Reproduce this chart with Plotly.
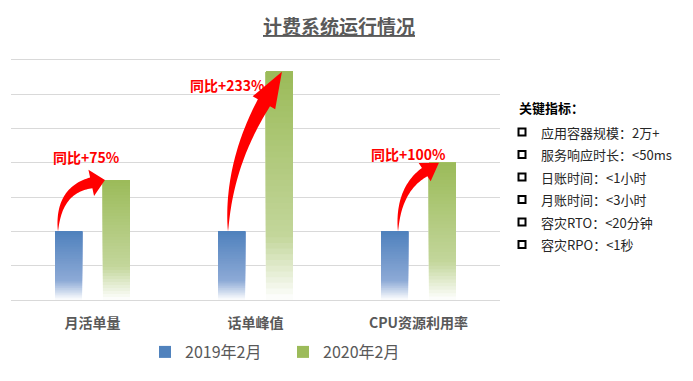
import numpy as np
import plotly.graph_objects as go

# ---------------- data ----------------
categories = ["月活单量", "话单峰值", "CPU资源利用率"]
series_names = ["2019年2月", "2020年2月"]
values_2019 = [2, 2, 2]
values_2020 = [3.5, 6.66, 4]
title_text = "计费系统运行情况"
indicator_title = "关键指标："
indicator_items = [
    "应用容器规模：2万+",
    "服务响应时长：&lt;50ms",
    "日账时间：&lt;1小时",
    "月账时间：&lt;3小时",
    "容灾RTO：&lt;20分钟",
    "容灾RPO：&lt;1秒",
]

# ---------------- layout geometry / style ----------------
# the page body has an 8px margin, so the figure is drawn 8px in from the window corner
PAGE_OFF = 8
WIN_W, WIN_H = 693, 381
W, H = WIN_W - PAGE_OFF, WIN_H - PAGE_OFF
PLOT_L, PLOT_R, PLOT_T, PLOT_B = 11, 500, 60, 300   # window pixel coords of plot area
ML, MT = PLOT_L - PAGE_OFF, PLOT_T - PAGE_OFF
MR, MB = WIN_W - PLOT_R, WIN_H - PLOT_B
PW, PH = PLOT_R - PLOT_L, PLOT_B - PLOT_T
YMAX = 7
SX = PW / 3.0          # px per category unit
SY = PH / YMAX         # px per value unit
BAR_W = 0.166
OFFSETS = [-0.23, 0.064]
FONT = "Noto Sans CJK SC"
GRAY = "#595959"

color_stops = [
    [(0.0, "#4F81BD"), (0.72, "#8DAAD6"), (1.0, "#FFFFFF")],
    [(0.0, "#9BBB59"), (0.72, "#C3D69B"), (1.0, "#FFFFFF")],
]


def hex2rgb(h):
    h = h.lstrip("#")
    return np.array([int(h[i:i + 2], 16) for i in (0, 2, 4)], float)


def grad_color(stops, f):
    # f: 0 = top of bar, 1 = bottom
    for (f0, c0), (f1, c1) in zip(stops[:-1], stops[1:]):
        if f0 <= f <= f1:
            t = (f - f0) / (f1 - f0)
            c = hex2rgb(c0) * (1 - t) + hex2rgb(c1) * t
            return "rgb(%d,%d,%d)" % tuple(np.round(c))
    return stops[-1][1]


fig = go.Figure()
x_idx = np.arange(len(categories))
N = 40
for s, (name, vals) in enumerate([(series_names[0], values_2019), (series_names[1], values_2020)]):
    vals = np.array(vals, float)
    for k in range(N):
        frac_base = k / N
        f_from_top = 1 - (k + 0.5) / N
        fig.add_trace(go.Bar(
            x=x_idx, y=vals * (1 - frac_base), base=vals * frac_base,
            width=BAR_W, offset=OFFSETS[s],
            marker=dict(color=grad_color(color_stops[s], f_from_top), line=dict(width=0)),
            name=name, legendgroup=name,
            showlegend=(k == N - 1),
            hoverinfo="skip",
        ))


# ---------------- curved arrows ----------------
def to_px(x, y):
    return np.array([x * SX, -y * SY])


def to_data(p):
    return p[0] / SX, -p[1] / SY


def arrow_path(tail, tip, angle_deg, head_len, head_w, body_w):
    T = to_px(*tail)
    Hd = to_px(*tip)
    a = np.radians(angle_deg)
    d = np.array([np.cos(a), -np.sin(a)])
    B = Hd - head_len * d
    t = (B[0] - T[0]) / d[0]
    C = B - t * d
    C[0] = T[0]
    ts = np.linspace(0, 1, 40)
    pts = ((1 - ts) ** 2)[:, None] * T + (2 * (1 - ts) * ts)[:, None] * C + (ts ** 2)[:, None] * B
    der = (2 * (1 - ts))[:, None] * (C - T) + (2 * ts)[:, None] * (B - C)
    der /= np.linalg.norm(der, axis=1)[:, None]
    nrm = np.stack([der[:, 1], -der[:, 0]], axis=1)
    w = body_w / 2 * ts ** 0.8
    left = pts + nrm * w[:, None]
    right = pts - nrm * w[:, None]
    n_end = nrm[-1]
    poly = list(left) + [B + n_end * head_w / 2, Hd, B - n_end * head_w / 2] + list(right[::-1])
    return "M " + " L ".join("%.4f,%.4f" % to_data(p) for p in poly) + " Z"


# style per arrow: tail px from blue left edge, tip px from green left edge, angle, head len, head w, body w
arrow_style = [
    (3, 2, 12, 14, 27, 11),
    (10, 16, 60, 36, 26, 14),
    (17, 10, 33, 17, 22, 10),
]
label_shift = [(-6, 23), (-28, -13), (-10, 9)]

for i in range(len(categories)):
    tpx, hpx, ang, hl, hw, bw = arrow_style[i]
    tail = (i + OFFSETS[0] + tpx / SX, values_2019[i])
    tip = (i + OFFSETS[1] + hpx / SX, values_2020[i])
    fig.add_shape(type="path", xref="x", yref="y",
                  path=arrow_path(tail, tip, ang, hl, hw, bw),
                  fillcolor="#FF0000", line=dict(width=0), layer="above")
    growth = round((values_2020[i] / values_2019[i] - 1) * 100)
    fig.add_annotation(x=i, y=values_2020[i], xref="x", yref="y",
                       text="<b>同比+%d%%</b>" % growth, showarrow=False,
                       xshift=label_shift[i][0], yshift=label_shift[i][1],
                       font=dict(family=FONT, size=14, color="#FF0000"))


# ---------------- title ----------------
def px2paper(px, py):
    # window pixel coords -> paper coords of the plot area
    return (px - PLOT_L) / PW, (PLOT_B - py) / PH


tx, ty = px2paper(339, 25)
fig.add_annotation(x=tx, y=ty, xref="paper", yref="paper", showarrow=False,
                   text="<b><u>%s</u></b>" % title_text, xanchor="center", yanchor="middle",
                   font=dict(family=FONT, size=19, color=GRAY))

# ---------------- right-side indicator panel ----------------
hx, hy = px2paper(517, 108)
fig.add_annotation(x=hx, y=hy, xref="paper", yref="paper", showarrow=False,
                   text="<b>%s</b>" % indicator_title, xanchor="left", yanchor="middle",
                   font=dict(family=FONT, size=13, color="#000000"))
for k, item in enumerate(indicator_items):
    py = 132 + 22.5 * k
    ix, iy = px2paper(539, py)
    fig.add_annotation(x=ix, y=iy, xref="paper", yref="paper", showarrow=False,
                       text=item, xanchor="left", yanchor="middle",
                       font=dict(family=FONT, size=13, color="#262626"))
    sx, sy = px2paper(522, py)
    fig.add_shape(type="rect", xref="paper", yref="paper",
                  xsizemode="pixel", ysizemode="pixel", xanchor=sx, yanchor=sy,
                  x0=-3.5, x1=3.5, y0=-3.5, y1=3.5,
                  line=dict(color="#000000", width=2), fillcolor="#FFFFFF")

lx, ly = px2paper(145, 352)
fig.update_layout(
    width=W, height=H,
    margin=dict(l=ML, r=MR, t=MT, b=MB),
    paper_bgcolor="white", plot_bgcolor="white",
    barmode="overlay",
    showlegend=True,
    legend=dict(orientation="h", x=lx, y=ly, xanchor="left", yanchor="middle",
                entrywidth=93, itemwidth=30, borderwidth=0,
                font=dict(family=FONT, size=16, color=GRAY), traceorder="normal"),
    xaxis=dict(range=[-0.5, 2.5], tickmode="array", tickvals=list(x_idx), ticktext=categories,
               showgrid=False, zeroline=False, showline=True, mirror=True,
               linecolor="#D9D9D9", linewidth=1,
               ticks="", ticklabelstandoff=10,
               tickfont=dict(family=FONT, size=14, color=GRAY, weight="bold")),
    yaxis=dict(range=[0, YMAX], dtick=1, showgrid=True, gridcolor="#D9D9D9", gridwidth=1,
               zeroline=False, showticklabels=False, ticks=""),
    font=dict(family=FONT),
)

fig.write_html("out.html")
